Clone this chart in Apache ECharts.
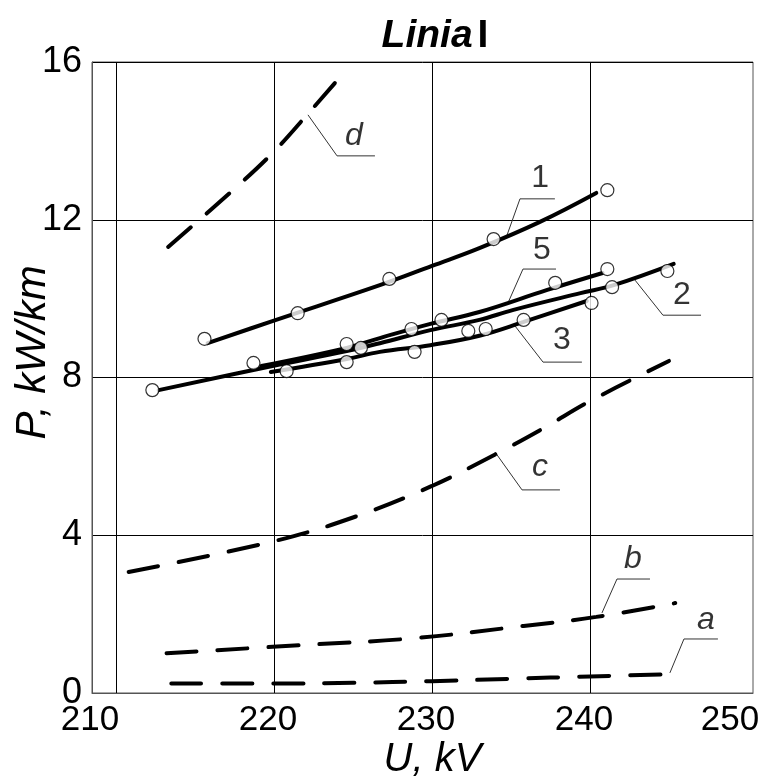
<!DOCTYPE html>
<html>
<head>
<meta charset="utf-8">
<script src="https://cdn.jsdelivr.net/npm/echarts@6/dist/echarts.min.js"></script>
<style>html,body{margin:0;background:#fff}#chart{width:762px;height:784px}</style>
</head>
<body>
<div id="chart"></div>
<script>
// ticks
var uTicks = [210, 220, 230, 240, 250];
var uGrid = [210, 220, 230, 240];

// fitted curves, [U kV, P kW/km]
var curve1 = [[215.8, 8.87], [219.9, 9.43], [226.7, 10.34], [230.0, 10.83], [233.0, 11.28], [236.8, 11.94], [240.4, 12.68]];
var curve2 = [[212.7, 7.68], [219.9, 8.29], [224.6, 8.67], [226.7, 8.87], [229.9, 9.20], [233.0, 9.46], [235.1, 9.71], [239.4, 10.14], [241.5, 10.34], [245.3, 10.88]];
var curve3 = [[219.8, 8.14], [224.6, 8.47], [226.7, 8.65], [229.9, 8.82], [233.0, 9.06], [235.8, 9.41], [239.8, 9.94]];
var curve5 = [[219.2, 8.29], [224.6, 8.75], [226.7, 9.00], [229.9, 9.36], [233.0, 9.66], [237.3, 10.22], [240.8, 10.65]];

var curveA = [[213.5, 0.24], [220, 0.24], [225, 0.26], [230, 0.30], [235, 0.36], [240, 0.42], [245.4, 0.48]];
var curveB = [[213.2, 1.01], [222.0, 1.22], [228.9, 1.39], [235.8, 1.70], [240.4, 1.93], [245.4, 2.28]];
var curveC = [[210.8, 3.07], [220, 3.85], [225, 4.45], [230, 5.25], [234, 6.05], [237, 6.70], [240, 7.40], [245, 8.42]];
var curveD = [[213.3, 11.31], [217.4, 12.75], [219.9, 13.69], [222.2, 14.71], [224.4, 15.72]];

// measured points
var points = [
  [215.6, 8.98], [221.5, 9.63], [227.3, 10.50], [233.9, 11.51], [241.1, 12.75],
  [212.3, 7.68], [218.7, 8.37], [220.8, 8.16], [224.6, 8.85], [225.5, 8.75], [224.6, 8.39],
  [228.7, 9.23], [228.9, 8.65], [230.6, 9.46], [232.3, 9.18], [233.4, 9.23], [235.8, 9.46],
  [237.8, 10.40], [240.1, 9.89], [241.1, 10.75], [241.4, 10.29], [244.9, 10.70]
];

// callouts: leader polyline and text position
var calloutText = ['1', '5', '2', '3', 'd', 'c', 'b', 'a'];
var calloutLeader = [
  [[234.75, 11.61], [235.57, 12.53], [237.78, 12.53]],
  [[234.81, 9.89], [235.76, 10.75], [237.85, 10.75]],
  [[242.85, 10.47], [244.62, 9.58], [247.03, 9.58]],
  [[235.25, 9.31], [237.03, 8.39], [239.49, 8.39]],
  [[222.15, 14.66], [223.99, 13.62], [226.39, 13.62]],
  [[233.99, 6.11], [235.70, 5.15], [238.10, 5.15]],
  [[240.76, 2.03], [241.71, 2.89], [243.80, 2.89]],
  [[245.06, 0.51], [245.95, 1.37], [248.10, 1.37]]
];
var calloutPos = [[236.84, 13.05], [236.96, 11.23], [245.82, 10.09], [238.23, 8.95], [225.06, 14.12], [236.84, 5.72], [242.72, 3.40], [247.34, 1.86]];

var FONT = 'Liberation Sans, Arial, sans-serif';
var chart = echarts.init(document.getElementById('chart'));

var series = [];
function solid(d) {
  series.push({ type: 'line', data: d, smooth: 0.4, symbol: 'none', z: 3,
    lineStyle: { color: '#000', width: 4, cap: 'round' } });
}
function dashed(d) {
  series.push({ type: 'line', data: d, smooth: 0.4, symbol: 'none', z: 3,
    lineStyle: { color: '#000', width: 4, type: [30, 21], cap: 'round' } });
}
[curve1, curve2, curve3, curve5].forEach(solid);
[curveA, curveB, curveC, curveD].forEach(dashed);

series.push({ type: 'scatter', data: points, symbol: 'circle', symbolSize: 13, z: 5,
  itemStyle: { color: '#fff', borderColor: '#000', borderWidth: 1.2 } });

calloutLeader.forEach(function (l) {
  series.push({ type: 'line', data: l, symbol: 'none', z: 2,
    lineStyle: { color: '#333', width: 1 } });
});
series.push({ type: 'scatter', symbolSize: 0, z: 6,
  data: calloutPos.map(function (p, i) {
    var d = { value: p, name: calloutText[i] };
    if (/[a-d]/.test(d.name)) d.label = { fontStyle: 'italic' };
    return d;
  }),
  label: { show: true, position: 'inside', formatter: function (p) { return p.name; },
    color: '#000', fontFamily: FONT, fontSize: 32 }
});

var tickFont = { fontFamily: FONT, fontSize: 35, color: '#000' };

chart.setOption({
  backgroundColor: '#fff',
  animation: false,
  title: {
    text: '{a|Linia} {b|I}', left: 430, top: 12, textAlign: 'center',
    textStyle: { rich: {
      a: { fontFamily: FONT, fontSize: 39, fontWeight: 'bold', fontStyle: 'italic', color: '#000' },
      b: { fontFamily: FONT, fontSize: 39, fontWeight: 'bold', color: '#000' }
    } }
  },
  grid: { left: 92, right: 9, top: 62, bottom: 91, show: true, borderColor: '#555', borderWidth: 1,
    outerBoundsMode: 'none' },
  xAxis: {
    type: 'value', min: 208.48, max: 250.32,
    name: 'U, kV', nameLocation: 'middle', nameGap: 47, nameMoveOverlap: false,
    nameTextStyle: { fontFamily: FONT, fontSize: 40, fontStyle: 'italic', color: '#000', padding: [0, 0, 0, 20] },
    axisLine: { lineStyle: { color: '#555' } },
    axisTick: { show: false, customValues: uGrid },
    axisLabel: {
      customValues: uTicks, margin: 10,
      // the original prints the end labels pulled inside the frame
      formatter: function (v) {
        if (v === 210) return '{l|210}';
        if (v === 250) return '{r|250}';
        return '{m|' + v + '}';
      },
      rich: {
        l: Object.assign({ padding: [0, 52, 0, 0] }, tickFont),
        r: Object.assign({ padding: [0, 36, 0, 0] }, tickFont),
        m: Object.assign({ padding: [0, 12, 0, 0] }, tickFont)
      }
    },
    splitLine: { show: true, lineStyle: { color: '#000', width: 1 } }
  },
  yAxis: {
    type: 'value', min: 0, max: 16, interval: 4,
    name: 'P, kW/km', nameLocation: 'middle', nameGap: 38, nameMoveOverlap: false,
    nameTextStyle: { fontFamily: FONT, fontSize: 42, fontStyle: 'italic', color: '#000', padding: [0, 0, 0, 50] },
    axisLine: { show: true, lineStyle: { color: '#555' } },
    axisTick: { show: false },
    axisLabel: { fontFamily: FONT, fontSize: 36, color: '#000', margin: 10 },
    splitLine: { show: true, lineStyle: { color: '#000', width: 1 } }
  },
  series: series
});
</script>
</body>
</html>
